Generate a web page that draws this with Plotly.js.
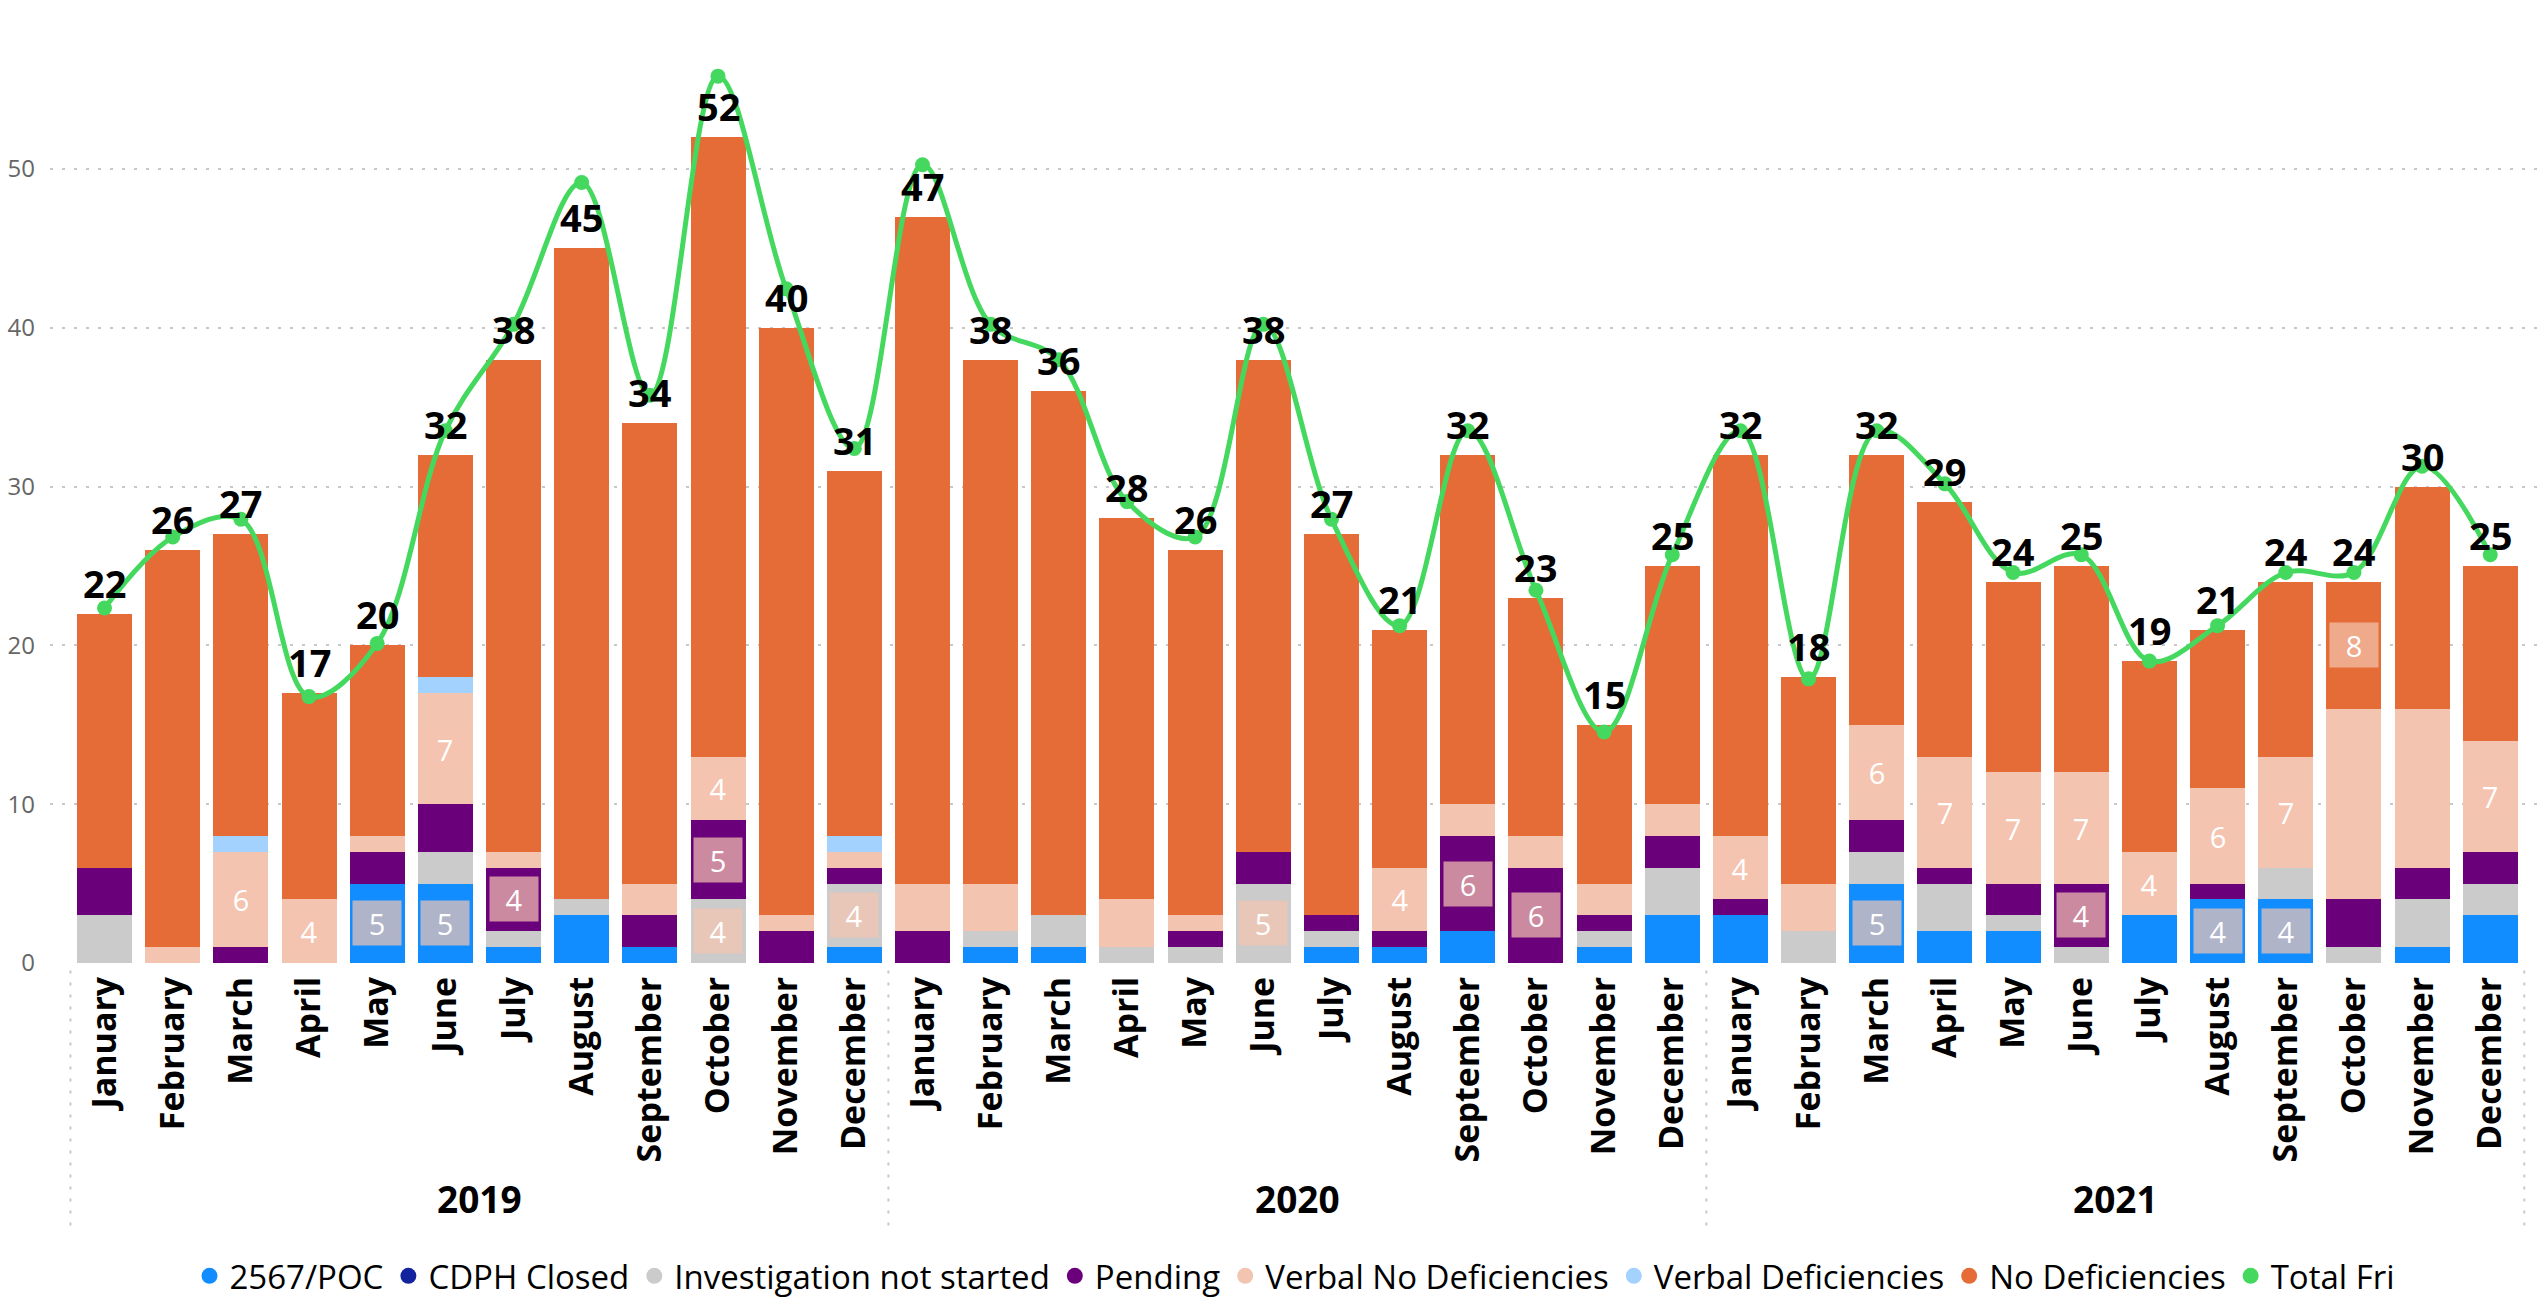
<!DOCTYPE html>
<html>
<head>
<meta charset="utf-8">
<script src="https://cdn.plot.ly/plotly-3.0.1.min.js"></script>
<style>
  html, body { margin: 0; padding: 0; background: #ffffff; }
  #chart { width: 2544px; height: 1308px; }
</style>
</head>
<body>
<div id="chart"></div>
<script>
// ---------------- data ----------------
const years = ['2019','2019','2019','2019','2019','2019','2019','2019','2019','2019','2019','2019',
               '2020','2020','2020','2020','2020','2020','2020','2020','2020','2020','2020','2020',
               '2021','2021','2021','2021','2021','2021','2021','2021','2021','2021','2021','2021'];
const months = ['January','February','March','April','May','June','July','August','September','October','November','December',
                'January','February','March','April','May','June','July','August','September','October','November','December',
                'January','February','March','April','May','June','July','August','September','October','November','December'];

const poc        = [0,0,0,0,5,5,1,3,1,0,0,1,  0,1,1,0,0,0,1,1,2,0,1,3,  3,0,5,2,2,0,3,4,4,0,1,3];
const cdphClosed = [0,0,0,0,0,0,0,0,0,0,0,0,  0,0,0,0,0,0,0,0,0,0,0,0,  0,0,0,0,0,0,0,0,0,0,0,0];
const notStarted = [3,0,0,0,0,2,1,1,0,4,0,4,  0,1,2,1,1,5,1,0,0,0,1,3,  0,2,2,3,1,1,0,0,2,1,3,2];
const pending    = [3,0,1,0,2,3,4,0,2,5,2,1,  2,0,0,0,1,2,1,1,6,6,1,2,  1,0,2,1,2,4,0,1,0,3,2,2];
const verbalNoDef= [0,1,6,4,1,7,1,0,2,4,1,1,  3,3,0,3,1,0,0,4,2,2,2,2,  4,3,6,7,7,7,4,6,7,12,10,7];
const verbalDef  = [0,0,1,0,0,1,0,0,0,0,0,1,  0,0,0,0,0,0,0,0,0,0,0,0,  0,0,0,0,0,0,0,0,0,0,0,0];
const noDef      = [16,25,19,13,12,14,31,41,29,39,37,23,  42,33,33,24,23,31,24,15,22,15,10,15,  24,13,17,16,12,13,12,10,11,8,14,11];
const totalFri   = [22,26,27,17,20,32,38,46,34,52,40,31,  47,38,36,28,26,38,27,21,32,23,15,25,  32,18,32,29,24,25,19,21,24,24,30,25];

const seriesNames  = ['2567/POC','CDPH Closed','Investigation not started','Pending','Verbal No Deficiencies','Verbal Deficiencies','No Deficiencies'];
const seriesValues = [poc, cdphClosed, notStarted, pending, verbalNoDef, verbalDef, noDef];
const seriesColors = ['#118DFF','#12239E','#CBCBCB','#6B007B','#F3C4B0','#A3D2FF','#E56C37'];
const lineName = 'Total Fri';
const lineColor = '#44D95E';

// ---------------- build ----------------
const idx = months.map((m, i) => i);
const FONT = 'Open Sans, Noto Sans, sans-serif';
const traces = [];
const annotations = [];
const cum = idx.map(() => 0);

seriesValues.forEach((vals, s) => {
  traces.push({
    type: 'bar', x: idx, y: vals, name: seriesNames[s],
    marker: { color: seriesColors[s], line: { width: 0 } },
    showlegend: false, hoverinfo: 'skip'
  });
  vals.forEach((v, i) => {
    if (v >= 4 && v <= 8) {
      annotations.push({
        x: i, y: cum[i] + v / 2, xref: 'x', yref: 'y',
        text: String(v), showarrow: false,
        font: { family: FONT, size: 29, color: '#ffffff' },
        bgcolor: 'rgba(244,196,176,0.7)',
        width: 40, height: 36, borderpad: 4
      });
    }
    cum[i] += v;
  });
});

// total labels above each stacked bar
cum.forEach((t, i) => {
  annotations.push({
    x: i, y: t, xref: 'x', yref: 'y', yanchor: 'bottom', yshift: 3,
    text: '<b>' + t + '</b>', showarrow: false,
    font: { family: FONT, size: 38, color: '#000000' }
  });
});

// line
traces.push({
  type: 'scatter', mode: 'lines+markers', x: idx, y: totalFri, yaxis: 'y2',
  name: lineName, line: { color: lineColor, width: 5, shape: 'spline', smoothing: 1 },
  marker: { color: lineColor, size: 15 }, showlegend: false, hoverinfo: 'skip'
});

// legend-only entries (round markers)
seriesNames.concat([lineName]).forEach((n, s) => {
  traces.push({
    type: 'scatter', mode: 'markers', x: [null], y: [null], name: n,
    marker: { color: s < seriesColors.length ? seriesColors[s] : lineColor, size: 22, symbol: 'circle' },
    showlegend: true, hoverinfo: 'skip'
  });
});

// year labels and dotted year dividers
const yearNames = [...new Set(years)];
yearNames.forEach(yv => {
  const ii = idx.filter(i => years[i] === yv);
  const mid = (ii[0] + ii[ii.length - 1]) / 2;
  annotations.push({
    x: mid, y: -0.255, xref: 'x', yref: 'paper', yanchor: 'middle',
    text: '<b>' + yv + '</b>', showarrow: false,
    font: { family: FONT, size: 37, color: '#000000' }
  });
});
const shapes = [];
const bounds = [-0.5];
idx.forEach(i => { if (i > 0 && years[i] !== years[i - 1]) bounds.push(i - 0.5); });
bounds.push(idx.length - 0.5);
bounds.forEach(b => {
  shapes.push({
    type: 'line', xref: 'x', yref: 'paper', x0: b, x1: b, y0: -0.008, y1: -0.285,
    line: { color: '#C8C8C8', width: 2, dash: '3px,9px' }
  });
});

const layout = {
  width: 2544, height: 1308,
  margin: { l: 50, r: 4, t: 40, b: 338 },
  paper_bgcolor: '#ffffff', plot_bgcolor: '#ffffff',
  barmode: 'stack', bargap: 0.193,
  font: { family: FONT, color: '#000000' },
  xaxis: {
    range: [-0.8, 35.73], tickmode: 'array', tickvals: idx, ticktext: months,
    tickangle: -90, tickfont: { family: FONT, size: 34, color: '#000000', weight: 'bold' },
    showgrid: false, zeroline: false, showline: false, ticks: '', ticklabelstandoff: 6,
    fixedrange: true
  },
  yaxis: {
    range: [0, 58.125], tickvals: [0,10,20,30,40,50],
    tickfont: { family: FONT, size: 24, color: '#666666' },
    showgrid: true, gridcolor: '#C8C8C8', gridwidth: 2, griddash: '3px,9px',
    zeroline: false, showline: false, ticks: '', ticklabelstandoff: 14
  },
  yaxis2: {
    overlaying: 'y', side: 'right', range: [1.97, 54.04], visible: false, showgrid: false
  },
  showlegend: true,
  legend: {
    orientation: 'h', x: 0.5, xanchor: 'center', y: -0.339, yanchor: 'middle',
    font: { family: FONT, size: 33, color: '#000000' }, traceorder: 'normal',
    itemsizing: 'trace', tracegroupgap: 0, itemwidth: 30
  },
  annotations: annotations,
  shapes: shapes
};

Plotly.newPlot('chart', traces, layout, { staticPlot: true, displayModeBar: false });
</script>
</body>
</html>
